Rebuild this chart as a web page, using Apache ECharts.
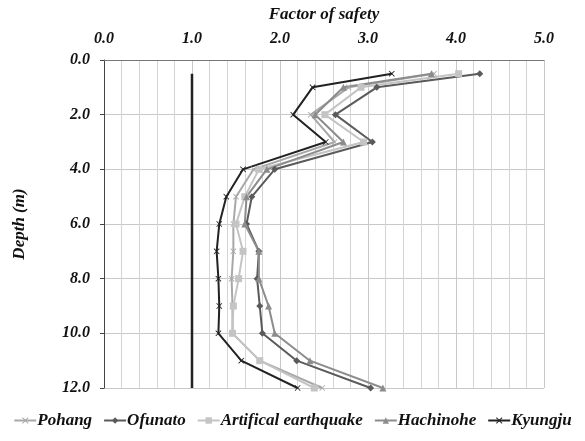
<!DOCTYPE html>
<html><head><meta charset="utf-8">
<script src="https://cdn.jsdelivr.net/npm/echarts@6/dist/echarts.min.js"></script>
<style>html,body{margin:0;padding:0;background:#fff}#c{width:585px;height:441px}</style>
</head><body><div id="c"></div>
<script>
const depths = [0.5, 1, 2, 3, 4, 5, 6, 7, 8, 9, 10, 11, 12];
const pohang     = [3.75, 2.78, 2.35, 2.62, 1.70, 1.50, 1.47, 1.47, 1.45, 1.46, 1.46, 1.77, 2.48];
const ofunato    = [4.27, 3.10, 2.63, 3.05, 1.94, 1.68, 1.62, 1.76, 1.74, 1.77, 1.80, 2.19, 3.03];
const artificial = [4.03, 2.92, 2.51, 2.95, 1.76, 1.60, 1.50, 1.58, 1.53, 1.47, 1.46, 1.77, 2.39];
const hachinohe  = [3.72, 2.72, 2.40, 2.72, 1.85, 1.62, 1.60, 1.76, 1.76, 1.87, 1.94, 2.34, 3.17];
const kyungju    = [3.27, 2.37, 2.15, 2.52, 1.58, 1.39, 1.31, 1.28, 1.30, 1.31, 1.30, 1.56, 2.20];
const limitFS = 1.0;
const limitDepths = [0.5, 12];
const xTicks = ['0.0','1.0','2.0','3.0','4.0','5.0'];
const yTicks = ['0.0','2.0','4.0','6.0','8.0','10.0','12.0'];

const XPATH = 'path://M0,1L1,0L5,4L9,0L10,1L6,5L10,9L9,10L5,6L1,10L0,9L4,5Z';
const font = {fontFamily:'"Liberation Serif", "DejaVu Serif", serif', fontWeight:'bold', fontStyle:'italic', color:'#111'};

function mk(name, vals, color, symbol, size){
  return {name, type:'line', data: vals.map((v,i)=>[v, depths[i]]), symbol, symbolSize:size,
    lineStyle:{color, width:2}, itemStyle:{color}, z:3};
}
const chart = echarts.init(document.getElementById('c'));
chart.setOption({
  animation:false,
  grid:{left:104, right:41, top:60, bottom:53},
  legend:{bottom:7, left:'center', itemWidth:22, itemHeight:8, itemGap:11,
    textStyle:Object.assign({fontSize:17, padding:[0,0,0,-4]}, font),
    data:['Pohang','Ofunato','Artifical earthquake','Hachinohe','Kyungju']},
  xAxis:{type:'value', position:'top', min:0, max:5, interval:1,
    name:'Factor of safety', nameLocation:'middle', nameGap:37,
    nameTextStyle:Object.assign({fontSize:17}, font),
    axisLabel:Object.assign({fontSize:16, margin:13, formatter:(v)=>xTicks[Math.round(v)]}, font),
    axisLine:{show:true, lineStyle:{color:'#777', width:1}}, axisTick:{show:false},
    splitLine:{show:true, lineStyle:{color:'#c8c8c8', width:1}},
    minorTick:{show:false, splitNumber:5},
    minorSplitLine:{show:true, lineStyle:{color:'#d4d4d4', width:1}}},
  yAxis:{type:'value', inverse:true, min:0, max:12, interval:2,
    name:'Depth (m)', nameLocation:'middle', nameGap:76, nameRotate:90,
    nameTextStyle:Object.assign({fontSize:17}, font),
    axisLabel:Object.assign({fontSize:16, margin:14, formatter:(v)=>yTicks[Math.round(v/2)]}, font),
    axisLine:{show:true, lineStyle:{color:'#444', width:1}},
    axisTick:{show:true, inside:false, length:4, lineStyle:{color:'#444'}},
    splitLine:{show:true, lineStyle:{color:'#c8c8c8', width:1}}},
  series:[
    mk('Pohang', pohang, '#a8a8a8', XPATH, 6),
    mk('Ofunato', ofunato, '#5a5a5a', 'diamond', 7),
    mk('Artifical earthquake', artificial, '#c4c4c4', 'rect', 7),
    mk('Hachinohe', hachinohe, '#8c8c8c', 'triangle', 7),
    mk('Kyungju', kyungju, '#222222', XPATH, 6),
    {name:'limit', type:'line', data: limitDepths.map(d=>[limitFS, d]), symbol:'none',
     lineStyle:{color:'#222', width:2.5}, z:2}
  ]
});
</script></body></html>
